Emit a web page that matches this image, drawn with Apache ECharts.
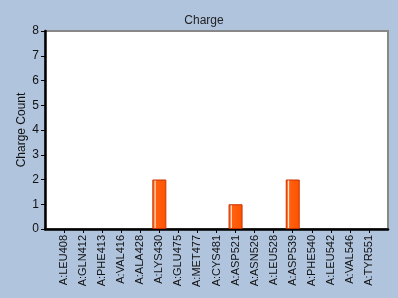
<!DOCTYPE html>
<html>
<head>
<meta charset="utf-8">
<script src="https://cdn.jsdelivr.net/npm/echarts@6/dist/echarts.min.js"></script>
<style>
html, body { margin: 0; padding: 0; background: #b0c4de; }
#chart { width: 398px; height: 298px; }
</style>
</head>
<body>
<div id="chart"></div>
<script>
var residues = ['A:LEU408', 'A:GLN412', 'A:PHE413', 'A:VAL416', 'A:ALA428', 'A:LYS430',
    'A:GLU475', 'A:MET477', 'A:CYS481', 'A:ASP521', 'A:ASN526', 'A:LEU528',
    'A:ASP539', 'A:PHE540', 'A:LEU542', 'A:VAL546', 'A:TYR551'];
var chargeCounts = [0, 0, 0, 0, 0, 2, 0, 0, 0, 1, 0, 0, 2, 0, 0, 0, 0];
var yTicks = [0, 1, 2, 3, 4, 5, 6, 7, 8];

// positions 1..n on a 0..n+1 scale, like the original plot
var slots = residues.map(function (r, i) { return i + 1; });

function createChart(e) {
    var myChart = echarts.init(document.getElementById(e));
    var option = {
        backgroundColor: '#b0c4de',
        animation: false,
        title: {
            text: 'Charge',
            left: 199,
            textAlign: 'center',
            top: 10,
            textStyle: { fontFamily: 'Liberation Sans', fontSize: 12, fontWeight: 'normal', color: '#222' }
        },
        grid: {
            left: 45, top: 31, right: 10, bottom: 69,
            show: true,
            backgroundColor: '#fff',
            borderColor: '#888',
            borderWidth: 2
        },
        xAxis: {
            type: 'value',
            min: 0,
            max: residues.length + 1,
            interval: 1,
            splitLine: { show: false },
            axisLine: { lineStyle: { color: '#000', width: 2.5 } },
            axisTick: { customValues: slots, length: 4, lineStyle: { color: '#000' } },
            axisLabel: {
                customValues: slots,
                rotate: 90,
                margin: 6,
                fontFamily: 'Liberation Sans',
                fontSize: 11,
                color: '#111',
                formatter: function (v) { return residues[v - 1] || ''; }
            }
        },
        yAxis: {
            type: 'value',
            min: yTicks[0],
            max: yTicks[yTicks.length - 1],
            interval: 1,
            name: 'Charge Count',
            nameLocation: 'middle',
            nameGap: 17,
            nameMoveOverlap: false,
            nameTextStyle: { fontFamily: 'Liberation Sans', fontSize: 12, color: '#111' },
            splitLine: { show: false },
            axisLine: { show: true, lineStyle: { color: '#000', width: 2.5 } },
            axisTick: { show: true, length: 4, lineStyle: { color: '#000' } },
            axisLabel: { fontFamily: 'Liberation Sans', fontSize: 12, color: '#111', margin: 6 }
        },
        series: [{
            type: 'bar',
            barWidth: 14,
            // zero counts draw nothing
            data: chargeCounts.map(function (v, i) { return [i + 1, v === 0 ? '-' : v]; }),
            itemStyle: {
                borderColor: '#c83200',
                borderWidth: 1,
                color: {
                    type: 'linear', x: 0, y: 0, x2: 1, y2: 0,
                    colorStops: [
                        { offset: 0, color: '#ff5500' },
                        { offset: 0.12, color: '#ff6a20' },
                        { offset: 0.2, color: '#ffe8d8' },
                        { offset: 0.28, color: '#ff6010' },
                        { offset: 1, color: '#ff5200' }
                    ]
                }
            }
        }]
    };
    myChart.setOption(option);
}

createChart('chart');
</script>
</body>
</html>
